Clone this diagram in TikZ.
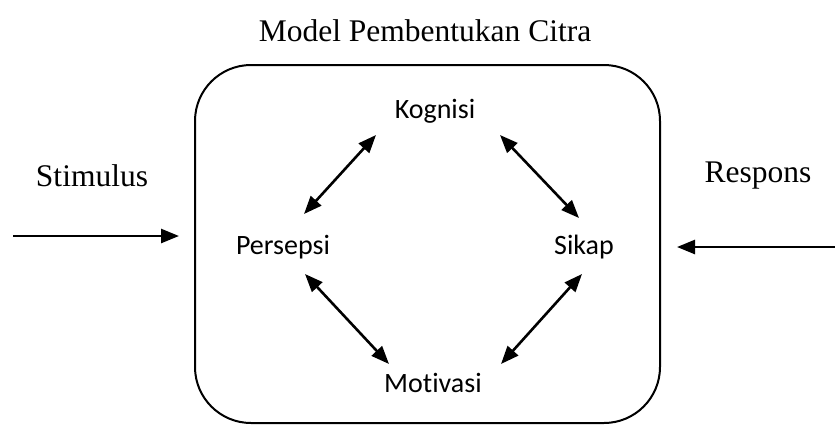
\documentclass[tikz,border=0pt]{standalone}
\usepackage{fontspec}
\setmainfont{Liberation Serif}
\newfontfamily\carl[Ligatures={NoCommon,NoRequired,NoContextual}]{Carlito}
\usetikzlibrary{arrows.meta}
\begin{document}
\begin{tikzpicture}[x=1pt,y=-1pt,
  lbl/.style={font=\carl\fontsize{28}{30}\selectfont, inner sep=0pt},
  ttl/.style={font=\fontsize{31.5}{34}\selectfont, inner sep=0pt},
  arr/.style={line width=2.6pt, -{Triangle[length=18pt,width=14pt]}},
  darr/.style={line width=2.6pt, {Triangle[length=18pt,width=14pt]}-{Triangle[length=18pt,width=14pt]}}]
\useasboundingbox (0,0) rectangle (835,424);
\node[draw, line width=2pt, rounded corners=56pt, minimum width=465pt, minimum height=358pt, inner sep=0pt] (box) at (427.5,244) {};
\node[ttl] (title) at (425,31) {Model Pembentukan Citra};
\node[ttl] (stim) at (92,176) {Stimulus};
\node[ttl] (resp) at (758,176) {Respons};
\node[lbl] (kog) at (435,111) {Kognisi};
\node[lbl] (per) at (283,247) {Persepsi};
\node[lbl] (sik) at (584,247) {Sikap};
\node[lbl] (mot) at (433,383) {Motivasi};
\coordinate (s0) at (13,236);
\coordinate (s1) at (179,236);
\coordinate (r0) at (835,247);
\coordinate (r1) at (677,247);
\coordinate (kp1) at (376,135);
\coordinate (kp2) at (304,214);
\coordinate (ks1) at (500,135);
\coordinate (ks2) at (579,218);
\coordinate (pm1) at (305,274);
\coordinate (pm2) at (389,364);
\coordinate (sm1) at (582,274);
\coordinate (sm2) at (501,364);
\draw[arr] (s0) -- (s1);
\draw[arr] (r0) -- (r1);
\draw[darr] (kp1) -- (kp2);
\draw[darr] (ks1) -- (ks2);
\draw[darr] (pm1) -- (pm2);
\draw[darr] (sm1) -- (sm2);
\end{tikzpicture}
\end{document}
